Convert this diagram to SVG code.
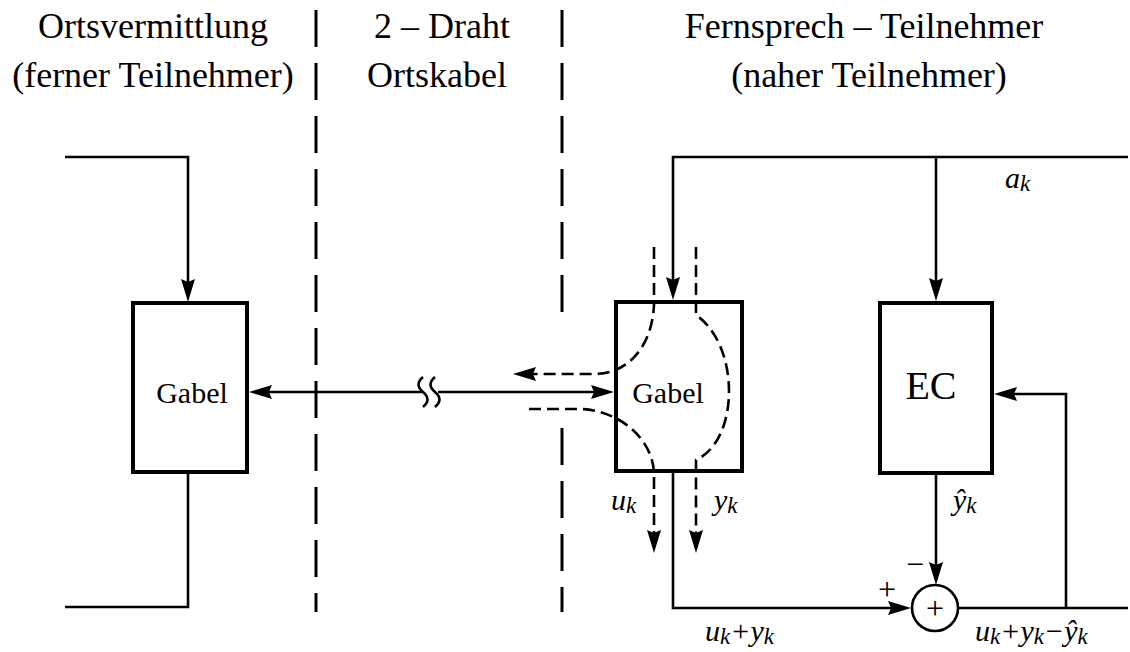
<svg xmlns="http://www.w3.org/2000/svg" width="1130" height="652" viewBox="0 0 1130 652">
<style>
.hd{font-family:"Liberation Serif","Times New Roman",serif;font-size:36px;fill:#000;text-anchor:middle}
.bl{font-family:"Liberation Serif","Times New Roman",serif;font-size:30px;fill:#000;text-anchor:middle}
.m{font-family:"Liberation Serif","Times New Roman",serif;font-style:italic;font-size:30px;fill:#000}
.s{font-size:23px}
.op{font-family:"Liberation Serif","Times New Roman",serif;font-size:32px;fill:#000;text-anchor:middle}
.box{fill:#fff;stroke:#000;stroke-width:4}
.ln{fill:none;stroke:#000;stroke-width:2.6}
.dl{fill:none;stroke:#000;stroke-width:2.6;stroke-dasharray:12 6}
.sep{fill:none;stroke:#000;stroke-width:3;stroke-dasharray:37 16}
</style>
<defs>
<marker id="ah" markerUnits="userSpaceOnUse" markerWidth="24" markerHeight="15" refX="15" refY="7" orient="auto">
<path d="M0,0 L23,7 L0,14 L3,7 z" fill="#000"/>
</marker>
</defs>
<g id="headers">
<text class="hd" x="153" y="38">Ortsvermittlung</text>
<text class="hd" x="153" y="87">(ferner Teilnehmer)</text>
<text class="hd" x="442" y="38">2 – Draht</text>
<text class="hd" x="437" y="87">Ortskabel</text>
<text class="hd" x="864" y="38">Fernsprech – Teilnehmer</text>
<text class="hd" x="869" y="87">(naher Teilnehmer)</text>
</g>
<g id="separators">
<line class="sep" x1="316" y1="10" x2="316" y2="612"/>
<line class="sep" x1="562" y1="10" x2="562" y2="318"/>
<line class="sep" x1="562" y1="428" x2="562" y2="612"/>
</g>
<g id="connectors">
<path class="ln" d="M65,157 H188 V294" marker-end="url(#ah)"/>
<path class="ln" d="M188,472 V607 H65"/>
<path class="ln" d="M422,392 H257" marker-end="url(#ah)"/>
<path class="ln" d="M438,392 H606" marker-end="url(#ah)"/>
<path class="ln" d="M423,377 c-6,5 -6,10 0,15 c6,5 6,10 0,15"/>
<path class="ln" d="M435,377 c-6,5 -6,10 0,15 c6,5 6,10 0,15"/>
<path class="ln" d="M1128,157 H673 V292" marker-end="url(#ah)"/>
<path class="ln" d="M936,157 V293" marker-end="url(#ah)"/>
<path class="ln" d="M673,473 V608 H903" marker-end="url(#ah)"/>
<path class="ln" d="M936,475 V577" marker-end="url(#ah)"/>
<path class="ln" d="M958,608 H1128"/>
<path class="ln" d="M1066,608 V394 H1002" marker-end="url(#ah)"/>
<path class="dl" d="M654,247 V305 C652,345 630,373 595,374 H521" marker-end="url(#ah)"/>
<path class="dl" d="M529,409 H580 C620,410 654,440 654,475 V545" marker-end="url(#ah)"/>
<path class="dl" d="M696,247 V315 C740,345 740,440 696,460 V545" marker-end="url(#ah)"/>
</g>
<g id="gabel-left">
<rect class="box" x="133" y="303" width="114" height="169"/>
<text class="bl" x="192" y="403">Gabel</text>
</g>
<g id="gabel-right">
<rect class="box" x="616" y="302" width="126" height="169" style="fill:none"/>
<text class="bl" x="668" y="403">Gabel</text>
</g>
<g id="ec">
<rect class="box" x="880" y="303" width="112" height="170"/>
<text class="bl" x="931" y="399" style="font-size:40px">EC</text>
</g>
<g id="sum">
<circle cx="935" cy="608" r="23" fill="#fff" stroke="#000" stroke-width="2.6"/>
<text class="op" x="935" y="619">+</text>
</g>
<g id="labels">
<text class="m" x="1005" y="188">a<tspan class="s" dy="3">k</tspan></text>
<text class="m" x="611" y="510">u<tspan class="s" dy="3">k</tspan></text>
<text class="m" x="714" y="510">y<tspan class="s" dy="3">k</tspan></text>
<text class="m" x="953" y="510">ŷ<tspan class="s" dy="3">k</tspan></text>
<text class="op" x="887" y="600">+</text>
<text class="op" x="915" y="575">−</text>
<text class="m" x="705" y="641">u<tspan class="s" dy="3">k</tspan><tspan dy="-3">+y</tspan><tspan class="s" dy="3">k</tspan></text>
<text class="m" x="975" y="641">u<tspan class="s" dy="3">k</tspan><tspan dy="-3">+y</tspan><tspan class="s" dy="3">k</tspan><tspan dy="-3">−ŷ</tspan><tspan class="s" dy="3">k</tspan></text>
</g>
</svg>
